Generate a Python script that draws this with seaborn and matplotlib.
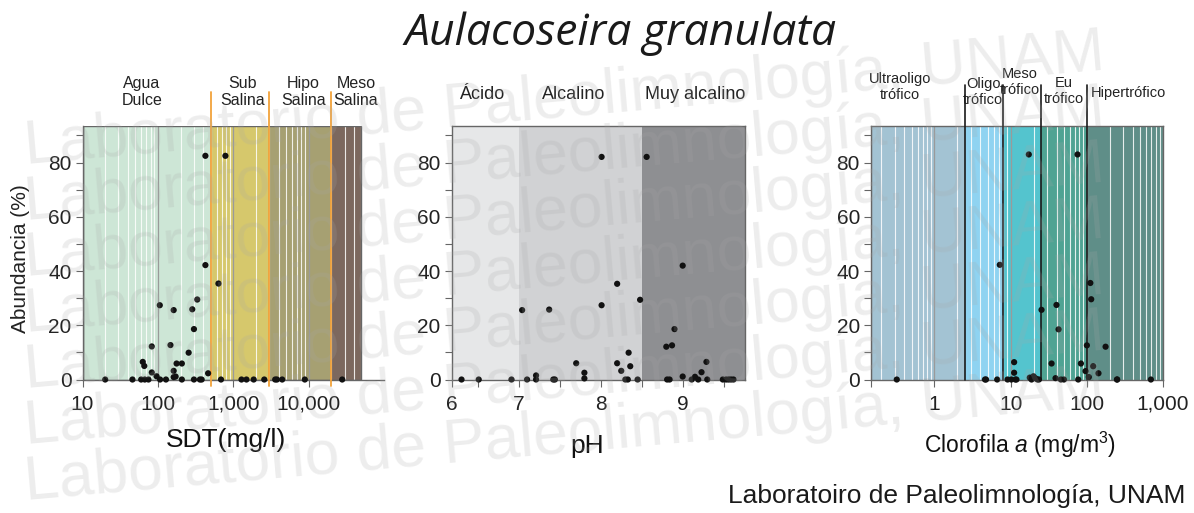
import matplotlib
matplotlib.use("Agg")
import matplotlib.pyplot as plt
import matplotlib.ticker as mticker
import seaborn as sns
import pandas as pd

# ---- Datos ----
SDT_VALS = [20, 46, 60, 67, 75, 63, 66, 83, 83, 96, 106, 107, 128, 147, 162, 162, 162, 172,
            177, 208, 208, 256, 286, 301, 301, 333, 361, 381, 427, 427, 464, 636, 688, 787,
            1286, 1497, 1867, 2580, 3600, 3800, 4460, 8900, 27900]
SDT_ABUND = [0, 0, 0, 0, 0, 6.5, 5, 12.2, 2.6, 1.2, 27.4, 0, 0, 12.7, 25.6, 3.2, 0.9, 1.1,
             5.9, 5.9, 0, 9.9, 25.9, 18.6, 0, 29.5, 0, 0, 82.5, 42.2, 2.3, 35.4, 0, 82.5,
             0, 0, 0, 0, 0, 0, 0, 0, 0]

PH_VALS = [6.30, 6.51, 6.91, 7.04, 7.10, 7.21, 7.21, 7.42, 7.44, 7.37, 7.70, 7.80, 7.80,
           8.01, 8.01, 8.20, 8.20, 8.25, 8.30, 8.33, 8.34, 8.36, 8.45, 8.48, 8.56, 8.80,
           8.81, 8.84, 8.87, 8.90, 9.00, 9.00, 9.11, 9.15, 9.19, 9.23, 9.29, 9.30, 9.49,
           9.53, 9.56, 9.59, 9.62]
PH_ABUND = [0, 0, 0, 25.6, 0, 0, 1.5, 0, 0, 25.8, 6, 2.5, 0.4, 82.1, 27.4, 35.3, 6, 3.2,
            0, 0, 9.9, 4.9, 0, 29.4, 82.1, 12.1, 0, 0, 12.6, 18.6, 42, 1.1, 0, 1, 0, 2.7,
            6.5, 0, 0, 0, 0, 0, 0]

CHL_VALS = [0.32, 4.6, 4.75, 6.65, 7.2, 9.1, 10.2, 11.1, 11.1, 11.5, 11.9, 17.3, 17.8,
            18.8, 19.9, 21, 22.5, 23.5, 25.4, 34.4, 38.8, 39.9, 42.5, 45.6, 50, 75.4, 77,
            83.5, 96, 100, 106, 111, 114, 121, 142, 176, 248, 250, 692]
CHL_ABUND = [0, 0, 0, 0, 42.3, 0, 0, 6.4, 2.5, 0, 0, 83, 0.7, 0, 1.2, 0.5, 0, 0, 25.7,
             5.9, 0.5, 27.5, 18.5, 0, 0, 83, 0, 5.9, 3.1, 12.6, 0.9, 35.6, 29.6, 4.9, 2.3,
             12.1, 0, 0, 0]

# ---- Zonas de cada variable ----
SDT_ZONES = ["Agua\nDulce", "Sub\nSalina", "Hipo\nSalina", "Meso\nSalina"]
SDT_EDGES = [10, 500, 3000, 20000, 50000]
SDT_COLORS = ["#cde6d6", "#d6c86c", "#a6a072", "#7c685e"]
SDT_LABEL_X = [61, 1340, 8500, 42600]

PH_ZONES = ["Ácido", "Alcalino", "Muy alcalino"]
PH_EDGES = [6.18, 7.0, 8.5, 9.76]
PH_COLORS = ["#e6e7e8", "#d1d2d4", "#8e8f92"]
PH_LABEL_X = [6.54, 7.67, 9.15]

CHL_ZONES = ["Ultraoligo\ntrófico", "Oligo\ntrófico", "Meso\ntrófico", "Eu\ntrófico", "Hipertrófico"]
CHL_EDGES = [0.147, 2.5, 8, 25, 100, 1000]
CHL_COLORS = ["#a3c3d3", "#8fd3f1", "#54c4ce", "#4fa393", "#5f8e88"]
CHL_LABEL_X = [0.35, 4.37, 13, 49.4, 355]
CHL_LABEL_Y = [1.154, 1.134, 1.174, 1.138, 1.129]

Y_TOP = 93.5
FONT = ["Liberation Sans", "DejaVu Sans"]

sns.set_style("ticks")
plt.rcParams["font.family"] = FONT
plt.rcParams["mathtext.fontset"] = "custom"
plt.rcParams["mathtext.rm"] = "Liberation Sans"
plt.rcParams["mathtext.it"] = "Liberation Sans:italic"

fig = plt.figure(figsize=(11.94, 5.13), dpi=100)
ax1 = fig.add_axes([0.0691, 0.2602, 0.2525, 0.4942])
ax2 = fig.add_axes([0.3783, 0.2602, 0.2456, 0.4942])
ax3 = fig.add_axes([0.7295, 0.2602, 0.2446, 0.4942])


def base_axes(ax):
    ax.set_ylim(0, Y_TOP)
    ax.set_yticks([0, 20, 40, 60, 80])
    ax.set_yticks([10, 30, 50, 70, 90], minor=True)
    ax.tick_params(axis="both", which="both", direction="out", length=5, width=0.8,
                   color="#666666", labelsize=15, labelcolor="#222222")
    ax.tick_params(axis="y", which="both", pad=3)
    ax.tick_params(axis="x", which="both", pad=6)
    ax.set_facecolor("none")
    for sp in ax.spines.values():
        sp.set_color("#666666")
        sp.set_linewidth(1)
        sp.set_zorder(4)


def draw_zones(ax, edges, colors):
    for lo, hi, c in zip(edges[:-1], edges[1:], colors):
        ax.axvspan(lo, hi, color=c, lw=0, zorder=1)


def draw_points(ax, x, y):
    df = pd.DataFrame({"x": x, "y": y})
    sns.scatterplot(data=df, x="x", y="y", ax=ax, color="#111111", s=20,
                    edgecolor="none", zorder=6, clip_on=False, legend=False)
    ax.set_xlabel("")
    ax.set_ylabel("")


def log_grid(ax):
    ax.set_axisbelow(False)
    ax.xaxis.set_minor_locator(mticker.LogLocator(base=10, subs=range(2, 10), numticks=20))
    ax.xaxis.set_minor_formatter(mticker.NullFormatter())
    ax.tick_params(axis="x", which="minor", length=0)
    ax.grid(axis="x", which="minor", color="white", lw=0.8, alpha=0.85, zorder=2)
    ax.grid(axis="x", which="major", color="#9a9a9a", lw=0.9, zorder=2)


# ---- Panel 1: SDT ----
base_axes(ax1)
ax1.set_xscale("log")
ax1.set_xlim(10, 1e5)
draw_zones(ax1, SDT_EDGES, SDT_COLORS)
ax1.axvspan(SDT_EDGES[0], SDT_EDGES[-1], fill=False, edgecolor="#666666", lw=1, zorder=4)
ax1.xaxis.set_major_locator(mticker.FixedLocator([10, 100, 1000, 10000]))
ax1.xaxis.set_major_formatter(mticker.FixedFormatter(["10", "100", "1,000", "10,000"]))
log_grid(ax1)
ax1.spines["top"].set_visible(False)
ax1.spines["right"].set_visible(False)
for e in SDT_EDGES[1:-1]:
    ax1.plot([e, e], [-0.025, 1.135], transform=ax1.get_xaxis_transform(),
             color="#f2a23a", lw=1.3, zorder=5, clip_on=False)
for lab, xl in zip(SDT_ZONES, SDT_LABEL_X):
    ax1.text(xl, 1.134, lab, transform=ax1.get_xaxis_transform(), ha="center",
             va="center", fontsize=11.5, color="#222222", linespacing=1.2)
draw_points(ax1, SDT_VALS, SDT_ABUND)
ax1.set_ylabel("Abundancia (%)", fontsize=15, color="#222222")
ax1.yaxis.set_label_coords(-0.175, 0.475)
ax1.set_xlabel("SDT(mg/l)", fontsize=19, color="#111111")
ax1.xaxis.set_label_coords(0.476, -0.19)

# ---- Panel 2: pH ----
base_axes(ax2)
ax2.set_xlim(PH_EDGES[0], PH_EDGES[-1])
draw_zones(ax2, PH_EDGES, PH_COLORS)
ax2.set_xticks([PH_EDGES[0], 7, 8, 9], ["6", "7", "8", "9"])
ax2.set_xticks([6.5, 7.5, 8.5, 9.5], minor=True)
for lab, xl in zip(PH_ZONES, PH_LABEL_X):
    ax2.text(xl, 1.126, lab, transform=ax2.get_xaxis_transform(), ha="center",
             va="center", fontsize=13, color="#222222")
draw_points(ax2, PH_VALS, PH_ABUND)
ax2.set_xlabel("pH", fontsize=19, color="#111111")
ax2.xaxis.set_label_coords(0.461, -0.215)

# ---- Panel 3: Clorofila a ----
base_axes(ax3)
ax3.set_xscale("log")
ax3.set_xlim(CHL_EDGES[0], CHL_EDGES[-1])
draw_zones(ax3, CHL_EDGES, CHL_COLORS)
ax3.xaxis.set_major_locator(mticker.FixedLocator([CHL_EDGES[0], 1, 10, 100, 1000]))
ax3.xaxis.set_major_formatter(mticker.FixedFormatter(["", "1", "10", "100", "1,000"]))
log_grid(ax3)
for e in CHL_EDGES[1:-1]:
    ax3.plot([e, e], [0, 1.16], transform=ax3.get_xaxis_transform(),
             color="#1a1a1a", lw=1.2, zorder=5, clip_on=False)
for lab, xl, yl in zip(CHL_ZONES, CHL_LABEL_X, CHL_LABEL_Y):
    ax3.text(xl, yl, lab, transform=ax3.get_xaxis_transform(), ha="center",
             va="center", fontsize=10.5, color="#222222", linespacing=1.2)
draw_points(ax3, CHL_VALS, CHL_ABUND)
ax3.set_xlabel(r"Clorofila $\it{a}$ (mg/m$^3$)", fontsize=16.5, color="#111111")
ax3.xaxis.set_label_coords(0.51, -0.2)

# ---- Titulo, pie y marca de agua ----
fig.text(0.52, 0.912, "Aulacoseira granulata", ha="center", va="baseline",
         fontsize=32, style="italic", family=["Open Sans", "DejaVu Sans"], color="#1a1a1a")
fig.text(0.993, 0.02, "Laboratoiro de Paleolimnología, UNAM", ha="right", va="baseline",
         fontsize=19, color="#1a1a1a")

WATERMARK = "Laboratorio de Paleolimnología, UNAM"
for i in range(7):
    yb = (513 - (500 - i * 56)) / 513
    fig.text(0.022, yb, WATERMARK, rotation=5, rotation_mode="anchor", ha="left",
             va="baseline", fontsize=45, color="#a8a8a8", alpha=0.2, zorder=10)

fig.savefig("out.png", dpi=100, facecolor="white")
